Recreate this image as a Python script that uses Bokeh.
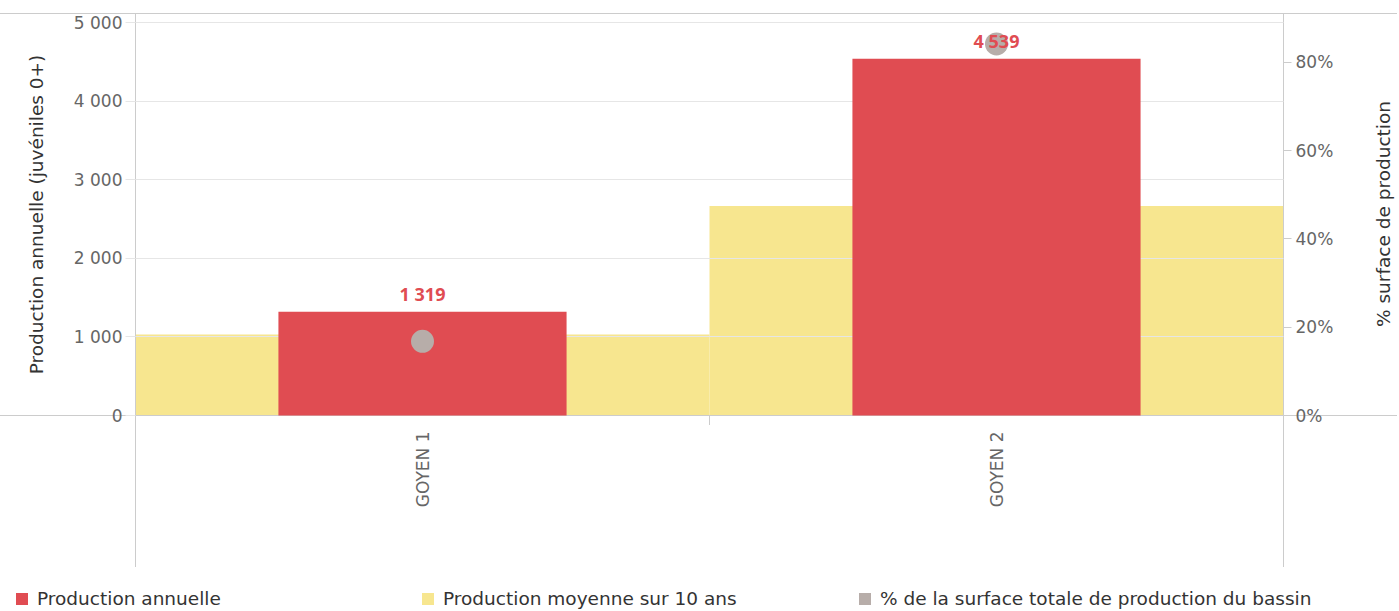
import math
from bokeh.plotting import figure
from bokeh.layouts import column
from bokeh.models import (ColumnDataSource, Range1d, LinearAxis, FixedTicker,
                          CustomJSTickFormatter, NumeralTickFormatter, Div)
from bokeh.core.properties import value
from bokeh.embed import file_html
from bokeh.resources import INLINE

# ---- data ----
categories = ["GOYEN 1", "GOYEN 2"]
production = [1319, 4539]
moyenne = [1030, 2665]
pct_surface = [0.168, 0.842]
left_ticks = [0, 1000, 2000, 3000, 4000, 5000]
right_ticks = [0, 0.2, 0.4, 0.6, 0.8]
legend_labels = ["Production annuelle", "Production moyenne sur 10 ans",
                 "% de la surface totale de production du bassin"]
right_title = "% surface de production"

RED = "#E04C52"
YELLOW = "#F7E68F"
GREY = "#B7ADA9"
LINE = "#cccccc"
FONT = "DejaVu Sans"
LFONT = "Open Sans"

def fmt(v):
    return f"{v:,}".replace(",", " ")

src = ColumnDataSource(dict(cat=categories, production=production, moyenne=moyenne,
                            pct=pct_surface, label=[fmt(v) for v in production]))

W = 1397
H_MAIN = 570
H_LEG = 39
FL, FR, FT, FB = 135, 1283, 13, 415   # frame edges
PCT_MAX = 0.911

# decorative frame lines (drawn as CSS backgrounds of the figure element)
segs = [(0, FT, W, 1), (0, FB, W, 1), (FL, FT, 1, 567 - FT), (FR, FT, 1, 567 - FT),
        (709, FB, 1, 10)]
bg_styles = {
    "background-image": ", ".join(["linear-gradient(#cccccc, #cccccc)"] * len(segs)),
    "background-position": ", ".join(f"{x}px {y}px" for x, y, w, h in segs),
    "background-size": ", ".join(f"{w}px {h}px" for x, y, w, h in segs),
    "background-repeat": "no-repeat",
}

p = figure(x_range=categories, y_range=Range1d(0, 5115), width=W, height=H_MAIN,
           output_backend="svg", toolbar_location=None,
           min_border_left=FL, min_border_right=W - FR, min_border_top=FT,
           min_border_bottom=H_MAIN - FB, styles=bg_styles)
p.border_fill_alpha = 0
p.background_fill_alpha = 0
p.outline_line_color = LINE
p.xgrid.visible = False
p.ygrid.ticker = FixedTicker(ticks=left_ticks)
p.ygrid.grid_line_color = "#e6e6e6"
p.ygrid.level = "guide"

p.extra_y_ranges = {"pct": Range1d(0, PCT_MAX)}

# bars / points / labels
yel = p.vbar(x="cat", top="moyenne", width=1.0, source=src, fill_color=YELLOW,
             line_color=None)
red = p.vbar(x="cat", top="production", width=0.502, source=src, fill_color=RED,
             line_color=None, level="annotation")
circ = p.scatter(x="cat", y="pct", y_range_name="pct", size=23, source=src,
                 fill_color=GREY, line_color=None, level="annotation")
p.text(x="cat", y="production", text="label", source=src, y_offset=-18,
       text_align="center", text_baseline="middle", text_color=RED,
       text_font=value(LFONT), text_font_style="bold", text_font_size="18px",
       level="annotation")

# left axis
ya = p.yaxis[0]
ya.ticker = FixedTicker(ticks=left_ticks)
ya.formatter = CustomJSTickFormatter(code="return tick.toString().replace(/\\B(?=(\\d{3})+(?!\\d))/g, ' ');")
ya.axis_label = "Production annuelle (juvéniles 0+)"
ya.axis_line_color = LINE
ya.major_tick_line_color = "#e6e6e6"
ya.major_tick_out = 10
ya.major_tick_in = 0
ya.minor_tick_line_color = None
ya.major_label_standoff = 3
ya.major_label_text_font = FONT
ya.major_label_text_font_size = "17px"
ya.major_label_text_color = "#666666"
ya.axis_label_text_font = FONT
ya.axis_label_text_font_size = "18.5px"
ya.axis_label_text_font_style = "normal"
ya.axis_label_text_color = "#333333"
ya.axis_label_standoff = 24

# right axis (ticks and labels; its title is set in the strip below, rotated)
ra = LinearAxis(y_range_name="pct", ticker=FixedTicker(ticks=right_ticks),
                formatter=NumeralTickFormatter(format="0%"))
ra.axis_line_color = LINE
ra.major_tick_line_color = LINE
ra.major_tick_out = 8
ra.major_tick_in = 0
ra.minor_tick_line_color = None
ra.major_label_standoff = 4
ra.major_label_text_font = FONT
ra.major_label_text_font_size = "17px"
ra.major_label_text_color = "#666666"
p.add_layout(ra, "right")

# x axis
xa = p.xaxis[0]
xa.axis_line_color = LINE
xa.major_tick_line_color = None
xa.minor_tick_line_color = None
xa.major_label_orientation = math.pi / 2
xa.major_label_standoff = 10
xa.major_label_text_font = FONT
xa.major_label_text_font_size = "17px"
xa.major_label_text_color = "#666666"

# legend strip (+ right axis title, rotated to read bottom-to-top)
leg_colors = [RED, YELLOW, GREY]
sq_x = [16, 422, 859]
parts = []
for lab, col, x in zip(legend_labels, leg_colors, sq_x):
    parts.append(
        f'<span style="position:absolute;left:{x}px;top:23px;width:12px;height:12px;'
        f'background:{col};"></span>'
        f'<span style="position:absolute;left:{x + 21}px;top:18px;line-height:22px;'
        f'white-space:nowrap;">{lab}</span>')
title_cx, title_cy = 1384, (FT + FB) // 2
parts.append(
    f'<span style="position:absolute;left:{title_cx}px;top:{title_cy - H_MAIN}px;'
    f'line-height:22px;white-space:nowrap;'
    f'transform:translate(-50%,-50%) rotate(-90deg);">{right_title}</span>')
html = (f'<div style="position:relative;width:{W}px;height:{H_LEG}px;overflow:visible;'
        f'font-family:\'DejaVu Sans\';font-size:18.5px;color:#333333;">'
        + "".join(parts) + '</div>')
leg = Div(text=html, width=W, height=H_LEG, margin=0, styles={"overflow": "visible"})

layout = column(p, leg, spacing=0)
open("out.html", "w").write(file_html(layout, INLINE))
